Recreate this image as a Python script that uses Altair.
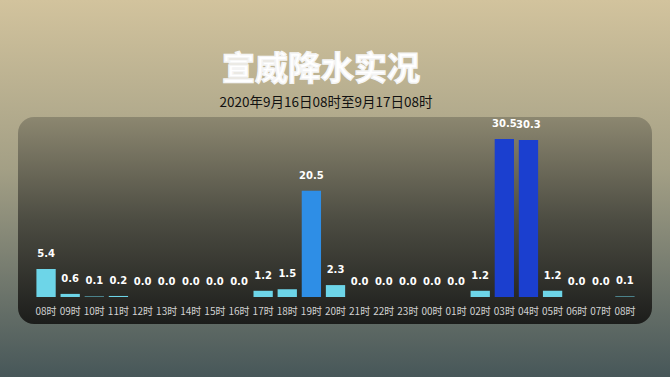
import altair as alt
import pandas as pd

hours = ["08时", "09时", "10时", "11时", "12时", "13时", "14时", "15时", "16时",
         "17时", "18时", "19时", "20时", "21时", "22时", "23时", "00时", "01时",
         "02时", "03时", "04时", "05时", "06时", "07时", "08时 "]
rain = [5.4, 0.6, 0.1, 0.2, 0.0, 0.0, 0.0, 0.0, 0.0,
        1.2, 1.5, 20.5, 2.3, 0.0, 0.0, 0.0, 0.0, 0.0,
        1.2, 30.5, 30.3, 1.2, 0.0, 0.0, 0.1]
levels = ["小", "中", "大"]
level_colors = ["#6dd5e8", "#2e8ee6", "#1b3fcf"]

def level(v):
    if v >= 25:
        return "大"
    if v >= 10:
        return "中"
    return "小"

df = pd.DataFrame({"hour": hours, "rain": rain, "level": [level(v) for v in rain]})
df["label"] = [f"{v:.1f}" for v in rain]

title_text = "宣威降水实况"
subtitle_text = "2020年9月16日08时至9月17日08时"

one = pd.DataFrame({"a": [0]})
W, H = 603, 158

bg = alt.Chart(one).mark_rect(
    color=alt.Gradient(
        gradient="linear", x1=0, y1=0, x2=0, y2=1,
        stops=[alt.GradientStop(offset=0, color="#d2c39d"),
               alt.GradientStop(offset=0.45, color="#a39f85"),
               alt.GradientStop(offset=1, color="#475759")],
    )
).encode(x=alt.value(-34), x2=alt.value(636), y=alt.value(-139), y2=alt.value(238))

panel = alt.Chart(one).mark_rect(
    cornerRadius=16,
    color=alt.Gradient(
        gradient="linear", x1=0, y1=0, x2=0, y2=1,
        stops=[alt.GradientStop(offset=0, color="#8c8770"),
               alt.GradientStop(offset=0.5, color="#4c4c42"),
               alt.GradientStop(offset=1, color="#1c1d1b")],
    )
).encode(x=alt.value(-16), x2=alt.value(618), y=alt.value(-22), y2=alt.value(185))

title = alt.Chart(one).mark_text(
    text=title_text, font="Noto Sans CJK SC", fontWeight="bold", fontSize=33,
    color="#ffffff", stroke="#f4f4f4", strokeWidth=1.4,
    align="center", baseline="middle"
).encode(x=alt.value(287), y=alt.value(-69))

subtitle = alt.Chart(one).mark_text(
    text=subtitle_text, font="Noto Sans CJK SC", fontSize=13.5,
    color="#111111", align="center", baseline="middle"
).encode(x=alt.value(292), y=alt.value(-36))

xenc = alt.X("hour:N", sort=hours,
             scale=alt.Scale(paddingInner=0.2, paddingOuter=0.1),
             axis=alt.Axis(title=None, domain=False, ticks=False, labelAngle=0,
                           labelColor="#d2d2d2", labelFont="Noto Sans CJK SC",
                           labelFontSize=10, labelPadding=9, zindex=2,
                           labelOverlap=False))
yenc = alt.Y("rain:Q", scale=alt.Scale(domain=[0, 30.5], nice=False, zero=True),
             axis=None)

bars = alt.Chart(df).mark_bar().encode(
    x=xenc, y=yenc,
    color=alt.Color("level:N", scale=alt.Scale(domain=levels, range=level_colors),
                    legend=None),
)

labels = alt.Chart(df).mark_text(
    color="#ffffff", font="DejaVu Sans", fontWeight="bold", fontSize=10,
    baseline="middle", dy=-15
).encode(x=xenc, y=yenc, text="label:N")

chart = alt.layer(bg, panel, title, subtitle, bars, labels).properties(
    width=W, height=H,
    autosize=alt.AutoSizeParams(type="none"),
    padding={"left": 34, "top": 139, "right": 33, "bottom": 80},
).configure_view(stroke=None).configure(background="#8a8a78")

chart.save("out.html", embed_options={"renderer": "svg", "actions": False})
